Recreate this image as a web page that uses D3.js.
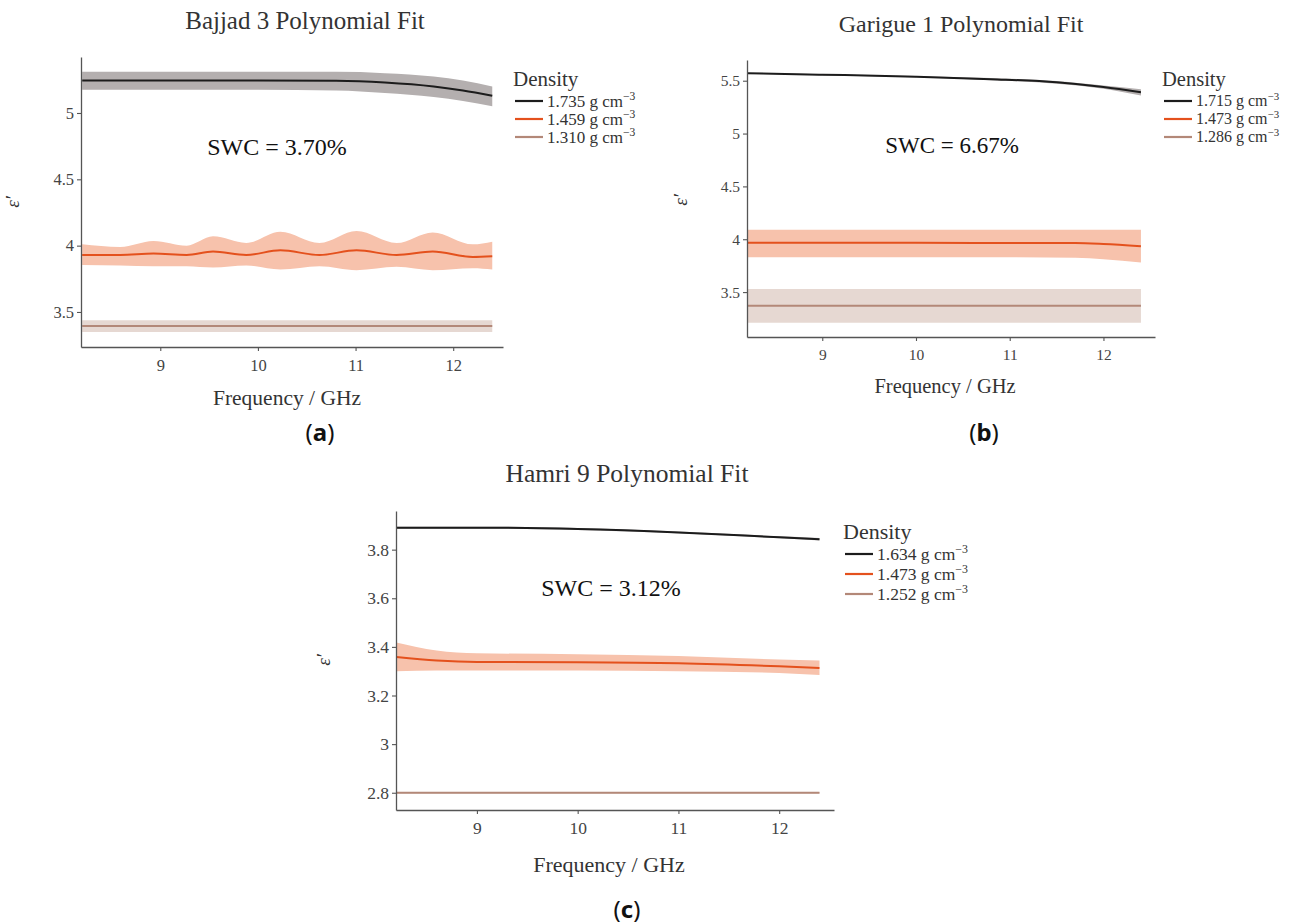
<!DOCTYPE html>
<html><head><meta charset="utf-8">
<script src="https://cdn.jsdelivr.net/npm/d3@7"></script>
<style>
html,body{margin:0;padding:0;background:#fff;}
svg{display:block;}
text{font-family:"Liberation Serif","Times New Roman",serif;}
</style></head>
<body>
<svg id="chart" width="1292" height="924"></svg>
<script>
// ---------- DATA ----------
const xTicks = [9, 10, 11, 12];

// (a) Bajjad 3
const aTitle = "Bajjad 3 Polynomial Fit";
const aSWC = "SWC = 3.70%";
const aYTicks = [3.5, 4, 4.5, 5];
const aDensities = ["1.735", "1.459", "1.310"];
const aBlackFreq = [8.2, 9, 10, 10.8, 11.3, 11.8, 12.1, 12.4];
const aBlackFit  = [5.245, 5.245, 5.245, 5.243, 5.23, 5.20, 5.17, 5.13];
const aBlackLo   = [5.175, 5.175, 5.175, 5.17, 5.15, 5.12, 5.09, 5.05];
const aBlackHi   = [5.31, 5.31, 5.31, 5.31, 5.30, 5.275, 5.245, 5.20];
const aOrangeFreq = [8.2, 8.59, 8.93, 9.27, 9.54, 9.88, 10.23, 10.63, 11.01, 11.42, 11.79, 12.2, 12.4];
const aOrangeFit  = [3.93, 3.93, 3.94, 3.93, 3.955, 3.93, 3.965, 3.93, 3.965, 3.93, 3.955, 3.915, 3.92];
const aOrangeHi   = [4.01, 3.99, 4.035, 4.0, 4.07, 4.02, 4.105, 4.02, 4.11, 4.02, 4.10, 4.01, 4.03];
const aOrangeLo   = [3.855, 3.85, 3.845, 3.845, 3.835, 3.85, 3.82, 3.845, 3.815, 3.84, 3.815, 3.83, 3.82];
const aBrownFreq = [8.2, 12.4];
const aBrownFit  = [3.394, 3.394];
const aBrownLo   = [3.35, 3.35];
const aBrownHi   = [3.438, 3.438];

// (b) Garigue 1
const bTitle = "Garigue 1 Polynomial Fit";
const bSWC = "SWC = 6.67%";
const bYTicks = [3.5, 4, 4.5, 5, 5.5];
const bDensities = ["1.715", "1.473", "1.286"];
const bBlackFreq = [8.2, 9, 10, 10.8, 11.5, 12, 12.4];
const bBlackFit  = [5.57, 5.557, 5.538, 5.515, 5.485, 5.44, 5.39];
const bBlackLo   = [5.565, 5.552, 5.532, 5.505, 5.472, 5.425, 5.36];
const bBlackHi   = [5.575, 5.562, 5.544, 5.525, 5.498, 5.455, 5.42];
const bOrangeFreq = [8.2, 9, 10, 11, 11.7, 12, 12.4];
const bOrangeFit  = [3.966, 3.966, 3.966, 3.965, 3.964, 3.955, 3.934];
const bOrangeHi   = [4.09, 4.09, 4.09, 4.09, 4.09, 4.09, 4.09];
const bOrangeLo   = [3.83, 3.83, 3.83, 3.83, 3.825, 3.81, 3.78];
const bBrownFreq = [8.2, 12.4];
const bBrownFit  = [3.37, 3.37];
const bBrownLo   = [3.21, 3.21];
const bBrownHi   = [3.53, 3.53];

// (c) Hamri 9
const cTitle = "Hamri 9 Polynomial Fit";
const cSWC = "SWC = 3.12%";
const cYTicks = [2.8, 3, 3.2, 3.4, 3.6, 3.8];
const cDensities = ["1.634", "1.473", "1.252"];
const cBlackFreq = [8.2, 9, 9.3, 10, 11, 12, 12.4];
const cBlackFit  = [3.89, 3.89, 3.89, 3.885, 3.871, 3.851, 3.843];
const cBlackLo   = [3.886, 3.886, 3.886, 3.881, 3.867, 3.847, 3.838];
const cBlackHi   = [3.894, 3.894, 3.894, 3.889, 3.875, 3.855, 3.848];
const cOrangeFreq = [8.2, 8.6, 9, 10, 11, 12, 12.4];
const cOrangeFit  = [3.358, 3.344, 3.338, 3.337, 3.333, 3.32, 3.313];
const cOrangeHi   = [3.418, 3.385, 3.374, 3.37, 3.362, 3.348, 3.344];
const cOrangeLo   = [3.30, 3.303, 3.303, 3.303, 3.30, 3.293, 3.284];
const cBrownFreq = [8.2, 12.4];
const cBrownFit  = [2.80, 2.80];
const cBrownLo   = [2.797, 2.797];
const cBrownHi   = [2.803, 2.803];

// ---------- STYLE ----------
const lineColors = ["#1c1c1c", "#e4511d", "#b38878"];
const bandColors = ["#b4afaf", "#f7c2ac", "#e6d8d2"];

function pack(freq, fit, lo, hi){ return freq.map((f,i)=>({f, v:fit[i], lo:lo[i], hi:hi[i]})); }

const panels = [
  { title:aTitle, swc:aSWC, yTicks:aYTicks, dens:aDensities, label:"a",
    series:[pack(aBlackFreq,aBlackFit,aBlackLo,aBlackHi), pack(aOrangeFreq,aOrangeFit,aOrangeLo,aOrangeHi), pack(aBrownFreq,aBrownFit,aBrownLo,aBrownHi)],
    L:81, R:503, T:57, B:347, xd:[8.188,12.51], yd:[3.236,5.422],
    titleX:305, titleY:29, titleFs:25, swcX:277, swcY:155, swcFs:24,
    xlabX:287, xlabY:405, xlabFs:21.5, ylabX:19, ylabY:202, tickFs:16.5,
    legX:513, legY:86, legRows:[101,119,137], legFs:21, legItemFs:17,
    panX:320, panY:441 },
  { title:bTitle, swc:bSWC, yTicks:bYTicks, dens:bDensities, label:"b",
    series:[pack(bBlackFreq,bBlackFit,bBlackLo,bBlackHi), pack(bOrangeFreq,bOrangeFit,bOrangeLo,bOrangeHi), pack(bBrownFreq,bBrownFit,bBrownLo,bBrownHi)],
    L:747, R:1155, T:60, B:337, xd:[8.197,12.55], yd:[3.075,5.696],
    titleX:961, titleY:32, titleFs:24, swcX:952, swcY:153, swcFs:23,
    xlabX:945, xlabY:393, xlabFs:20.5, ylabX:687, ylabY:200, tickFs:15.5,
    legX:1162, legY:86, legRows:[101,119,137], legFs:20.5, legItemFs:16,
    panX:984, panY:441 },
  { title:cTitle, swc:cSWC, yTicks:cYTicks, dens:cDensities, label:"c",
    series:[pack(cBlackFreq,cBlackFit,cBlackLo,cBlackHi), pack(cOrangeFreq,cOrangeFit,cOrangeLo,cOrangeHi), pack(cBrownFreq,cBrownFit,cBrownLo,cBrownHi)],
    L:396, R:834, T:511, B:810, xd:[8.197,12.544], yd:[2.729,3.959],
    titleX:627, titleY:482, titleFs:25.5, swcX:611, swcY:596, swcFs:24,
    xlabX:609, xlabY:872, xlabFs:22, ylabX:330, ylabY:660, tickFs:17.5,
    legX:843, legY:539, legRows:[554,574,594], legFs:22, legItemFs:17.5,
    panX:627, panY:918 }
];

const svg = d3.select("#chart");

panels.forEach(p => {
  const g = svg.append("g");
  const x = d3.scaleLinear().domain(p.xd).range([p.L, p.R]);
  const y = d3.scaleLinear().domain(p.yd).range([p.B, p.T]);

  const area = d3.area().x(d=>x(d.f)).y0(d=>y(d.lo)).y1(d=>y(d.hi)).curve(d3.curveMonotoneX);
  const line = d3.line().x(d=>x(d.f)).y(d=>y(d.v)).curve(d3.curveMonotoneX);
  p.series.forEach((s,i)=>{
    g.append("path").attr("d", area(s)).attr("fill", bandColors[i]).attr("stroke","none");
  });
  p.series.forEach((s,i)=>{
    g.append("path").attr("d", line(s)).attr("fill","none").attr("stroke", lineColors[i]).attr("stroke-width", 2);
  });

  const ax = g.append("g").attr("transform", `translate(0,${p.B})`)
    .call(d3.axisBottom(x).tickValues(xTicks).tickSize(4).tickSizeOuter(0).tickPadding(8).tickFormat(d=>String(d)));
  const ay = g.append("g").attr("transform", `translate(${p.L},0)`)
    .call(d3.axisLeft(y).tickValues(p.yTicks).tickSize(4).tickSizeOuter(0).tickPadding(3).tickFormat(d=>String(d)));
  [ax, ay].forEach(a=>{
    a.attr("font-family", null);
    a.select(".domain").attr("stroke","#555").attr("stroke-width",1.3);
    a.selectAll(".tick line").attr("stroke","#555").attr("stroke-width",1.1);
    a.selectAll(".tick text").attr("fill","#444").style("font-family","'Liberation Serif',serif").style("font-size", p.tickFs+"px");
  });

  g.append("text").attr("x",p.titleX).attr("y",p.titleY).attr("text-anchor","middle")
    .attr("fill","#333").style("font-size",p.titleFs+"px").text(p.title);
  g.append("text").attr("x",p.swcX).attr("y",p.swcY).attr("text-anchor","middle")
    .attr("fill","#111").style("font-size",p.swcFs+"px").text(p.swc);
  g.append("text").attr("x",p.xlabX).attr("y",p.xlabY).attr("text-anchor","middle")
    .attr("fill","#333").style("font-size",p.xlabFs+"px").text("Frequency / GHz");
  g.append("text").attr("transform",`translate(${p.ylabX},${p.ylabY}) rotate(-90)`).attr("text-anchor","middle")
    .attr("fill","#333").style("font-size","19px").style("font-style","italic").text("ε′");

  g.append("text").attr("x",p.legX).attr("y",p.legY).attr("fill","#333")
    .style("font-size",p.legFs+"px").text("Density");
  p.dens.forEach((d,i)=>{
    const ry = p.legRows[i];
    g.append("line").attr("x1",p.legX+2).attr("x2",p.legX+30).attr("y1",ry).attr("y2",ry)
      .attr("stroke",lineColors[i]).attr("stroke-width",2.2);
    const t = g.append("text").attr("x",p.legX+34).attr("y",ry+ p.legItemFs*0.33).attr("fill","#333")
      .style("font-size",p.legItemFs+"px");
    t.append("tspan").text(d + " g cm");
    t.append("tspan").attr("dy", -p.legItemFs*0.38).style("font-size",(p.legItemFs*0.68)+"px").text("−3");
  });

  g.append("text").attr("x",p.panX).attr("y",p.panY).attr("text-anchor","middle")
    .attr("fill","#111").style("font-family","'Noto Sans','DejaVu Sans',sans-serif").style("font-size","24px")
    .selectAll("tspan").data(["(", p.label, ")"]).join("tspan")
    .style("font-weight",(d,i)=> i===1 ? "bold" : "normal").text(d=>d);
});
</script>
</body></html>
